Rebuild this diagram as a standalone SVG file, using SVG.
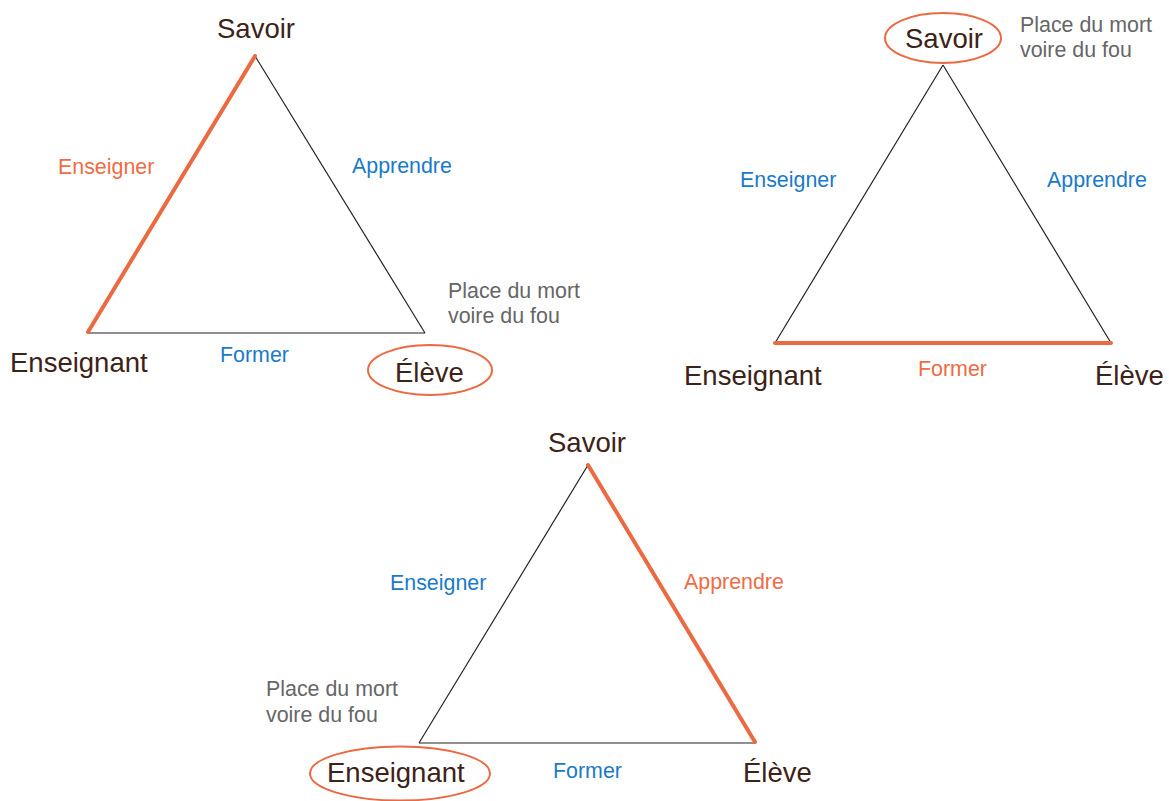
<svg xmlns="http://www.w3.org/2000/svg" width="1169" height="801" viewBox="0 0 1169 801">
<style>
.big{font-family:"Liberation Sans",Arial,sans-serif;font-size:27.5px;fill:#3d2218}
.lbl{font-family:"Liberation Sans",Arial,sans-serif;font-size:21.4px}
.blue{fill:#1a7ac8}
.org{fill:#ee6c45}
.gray{fill:#666666}
.edge{stroke:#222;stroke-width:1.2;fill:none}
.hi{stroke:#ec6a42;stroke-width:4;fill:none;stroke-linecap:round}
.ring{stroke:#ec6a42;stroke-width:2;fill:none}
</style>
<rect width="1169" height="801" fill="#ffffff"/>
<g id="connectors">
  <line class="edge" x1="255" y1="56" x2="425" y2="333"/>
  <line class="edge" x1="88" y1="333" x2="425" y2="333"/>
  <line class="hi" x1="255" y1="56" x2="88" y2="332"/>
  <line class="edge" x1="943" y1="65" x2="775" y2="343"/>
  <line class="edge" x1="943" y1="65" x2="1111" y2="343"/>
  <line class="hi" x1="775" y1="343" x2="1111" y2="343"/>
  <line class="edge" x1="588" y1="465" x2="419" y2="743"/>
  <line class="edge" x1="419" y1="743" x2="755" y2="743"/>
  <line class="hi" x1="588" y1="465" x2="755" y2="742"/>
</g>
<g id="t1">
  <g id="t1-savoir"><text class="big" x="256" y="38" text-anchor="middle">Savoir</text></g>
  <g id="t1-enseignant"><text class="big" x="10" y="372">Enseignant</text></g>
  <g id="t1-eleve"><ellipse class="ring" cx="430" cy="370" rx="62" ry="25"/><text class="big" x="395" y="382">Élève</text></g>
  <text class="lbl org" x="58" y="174">Enseigner</text>
  <text class="lbl blue" x="352" y="173">Apprendre</text>
  <text class="lbl blue" x="220" y="362">Former</text>
  <text class="lbl gray" x="448" y="298">Place du mort</text>
  <text class="lbl gray" x="448" y="323">voire du fou</text>
</g>
<g id="t2">
  <g id="t2-savoir"><ellipse class="ring" cx="943" cy="38" rx="58" ry="25"/><text class="big" x="944" y="48" text-anchor="middle">Savoir</text></g>
  <g id="t2-enseignant"><text class="big" x="684" y="385">Enseignant</text></g>
  <g id="t2-eleve"><text class="big" x="1095" y="385">Élève</text></g>
  <text class="lbl blue" x="740" y="187">Enseigner</text>
  <text class="lbl blue" x="1047" y="187">Apprendre</text>
  <text class="lbl org" x="918" y="376">Former</text>
  <text class="lbl gray" x="1020" y="32">Place du mort</text>
  <text class="lbl gray" x="1020" y="57">voire du fou</text>
</g>
<g id="t3">
  <g id="t3-savoir"><text class="big" x="587" y="452" text-anchor="middle">Savoir</text></g>
  <g id="t3-enseignant"><ellipse class="ring" cx="400" cy="773.5" rx="90" ry="27"/><text class="big" x="327" y="782">Enseignant</text></g>
  <g id="t3-eleve"><text class="big" x="743" y="782">Élève</text></g>
  <text class="lbl blue" x="390" y="590">Enseigner</text>
  <text class="lbl org" x="684" y="589">Apprendre</text>
  <text class="lbl blue" x="553" y="778">Former</text>
  <text class="lbl gray" x="266" y="696">Place du mort</text>
  <text class="lbl gray" x="266" y="722">voire du fou</text>
</g>
</svg>
